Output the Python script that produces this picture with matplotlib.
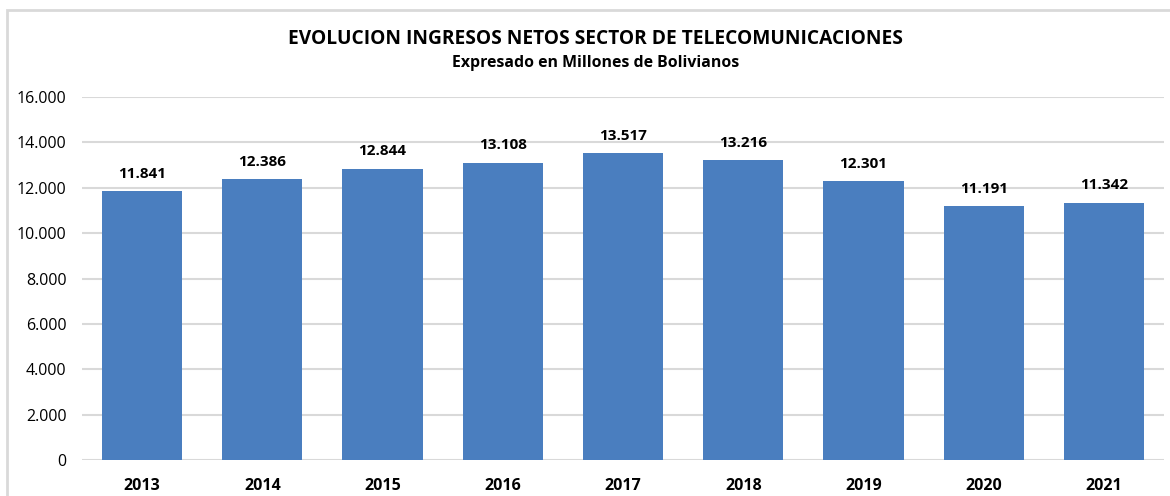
import matplotlib.pyplot as plt
from matplotlib.patches import Rectangle
from matplotlib.ticker import FuncFormatter

years = ['2013', '2014', '2015', '2016', '2017', '2018', '2019', '2020', '2021']
ingresos = [11841, 12386, 12844, 13108, 13517, 13216, 12301, 11191, 11342]


def miles(v, pos=None):
    # formato con punto como separador de miles
    return f'{int(round(v)):,}'.replace(',', '.')


plt.rcParams['font.family'] = ['Open Sans', 'DejaVu Sans']

fig = plt.figure(figsize=(11.7, 4.96), dpi=100)
ax = fig.add_axes([0.0701, 0.0726, 0.9248, 0.7318])

x = range(len(years))
bars = ax.bar(x, ingresos, width=0.667, color='#4A7EBF', zorder=3)

for rect, v in zip(bars, ingresos):
    ax.text(rect.get_x() + rect.get_width() / 2, v + 450, miles(v),
            ha='center', va='bottom', fontsize=11, fontweight='bold')

ax.set_xlim(-0.5, len(years) - 0.5)
ax.set_ylim(0, 16000)
ax.set_yticks(range(0, 16001, 2000))
ax.yaxis.set_major_formatter(FuncFormatter(miles))
ax.set_xticks(list(x))
ax.set_xticklabels(years, fontweight='bold')
ax.tick_params(axis='both', length=0, labelsize=11.5)
ax.tick_params(axis='x', pad=13)
ax.tick_params(axis='y', pad=11)
ax.grid(axis='y', color='#d9d9d9', linewidth=1.5, zorder=0)
for s in ax.spines.values():
    s.set_visible(False)

fig.text(0.509, 0.921, 'EVOLUCION INGRESOS NETOS SECTOR DE TELECOMUNICACIONES',
         ha='center', va='center', fontsize=13.8, fontweight='bold')
fig.text(0.509, 0.872, 'Expresado en Millones de Bolivianos',
         ha='center', va='center', fontsize=11.4, fontweight='bold')

# marco del grafico
fig.patches.append(Rectangle((7 / 1170, -0.1), 1.2, 1.1 - 10 / 496,
                             transform=fig.transFigure, fill=False,
                             edgecolor='#d9d9d9', linewidth=2))

fig.savefig('out.png', dpi=100)
